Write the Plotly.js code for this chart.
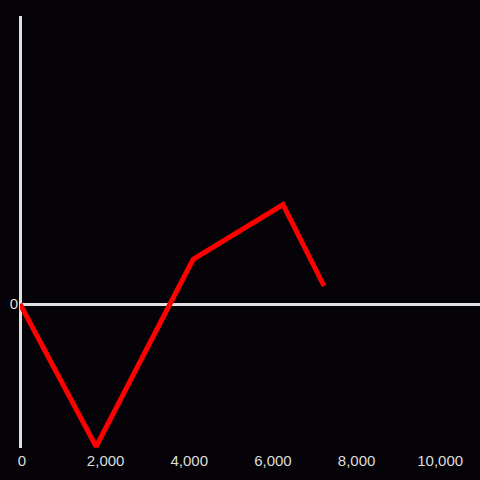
<!DOCTYPE html>
<html><head><meta charset="utf-8">
<script src="https://cdn.plot.ly/plotly-3.0.1.min.js"></script>
<style>html,body{margin:0;padding:0;background:#050307;}</style>
</head><body>
<div id="chart" style="width:480px;height:480px;"></div>
<script>
const xValues = [0, 1820, 4140, 6290, 7270];
const yValues = [0, -0.99, 0.31, 0.69, 0.125];
const xTickVals = [0, 2000, 4000, 6000, 8000, 10000];
const xTickText = ["0", "2,000", "4,000", "6,000", "8,000", "10,000"];

Plotly.newPlot('chart', [{
  x: xValues, y: yValues, type: 'scatter', mode: 'lines',
  line: {color: '#ff0000', width: 5}, hoverinfo: 'none'
}], {
  width: 480, height: 480,
  paper_bgcolor: '#050307', plot_bgcolor: '#050307',
  margin: {l: 20, r: 0, t: 16, b: 32},
  showlegend: false,
  font: {family: 'Liberation Sans, Arial, sans-serif', size: 15, color: '#dddddd'},
  xaxis: {range: [0, 11000], showgrid: false, showline: false, zeroline: true,
    zerolinecolor: '#e0e0e0', zerolinewidth: 3, tickvals: xTickVals, ticktext: xTickText, ticks: '',
    ticklabelshift: 2, ticklabelstandoff: 2},
  yaxis: {range: [-1, 2], showgrid: false, showline: false, zeroline: true,
    zerolinecolor: '#e0e0e0', zerolinewidth: 3, tickvals: [0], ticktext: ['0'], ticks: '',
    ticklabelstandoff: 1}
}, {displayModeBar: false, staticPlot: true});
</script>
</body></html>
